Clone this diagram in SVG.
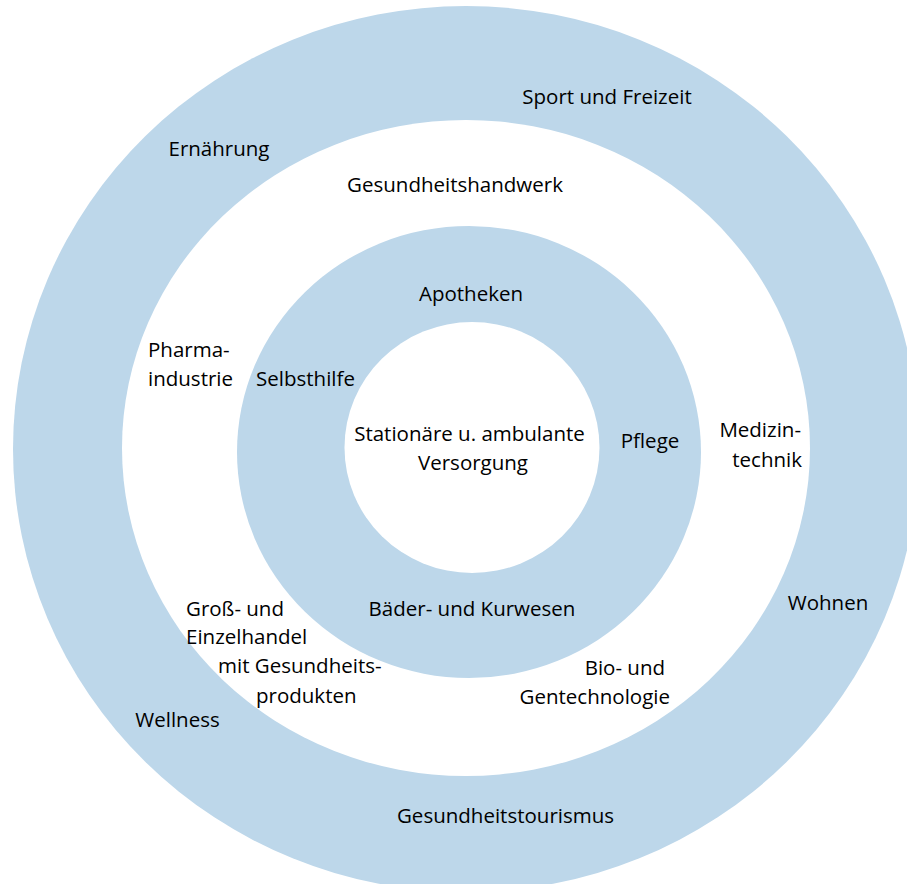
<svg xmlns="http://www.w3.org/2000/svg" width="907" height="884" viewBox="0 0 907 884">
<style>
.ring{fill:#BDD7EA}
.hole{fill:#FFFFFF}
text{font-family:"Open Sans","Liberation Sans",sans-serif;font-size:20.5px;fill:#000}
.m{text-anchor:middle}
.e{text-anchor:end}
</style>
<rect x="0" y="0" width="907" height="884" fill="#FFFFFF"/>
<g id="outer-ring">
<ellipse class="ring" cx="466" cy="449" rx="453" ry="443"/>
<ellipse class="hole" cx="466" cy="448" rx="344" ry="328"/>
</g>
<g id="middle-ring">
<ellipse class="ring" cx="469" cy="452" rx="232" ry="226"/>
<ellipse class="hole" cx="472" cy="447.5" rx="127.5" ry="125.5"/>
</g>
<g id="labels">
<text class="m" x="607" y="104">Sport und Freizeit</text>
<text class="m" x="219" y="156">Ernährung</text>
<text class="m" x="455" y="192">Gesundheitshandwerk</text>
<text class="m" x="471" y="301">Apotheken</text>
<text x="148" y="357">Pharma-</text>
<text x="148" y="386">industrie</text>
<text class="m" x="305.5" y="386">Selbsthilfe</text>
<text class="m" x="469.5" y="441">Stationäre u. ambulante</text>
<text class="m" x="473" y="470">Versorgung</text>
<text class="m" x="650" y="448">Pflege</text>
<text class="e" x="801" y="437">Medizin-</text>
<text class="e" x="802" y="467">technik</text>
<text class="m" x="828" y="610">Wohnen</text>
<text x="186" y="616">Groß- und</text>
<text x="186" y="644">Einzelhandel</text>
<text x="218" y="673">mit Gesundheits-</text>
<text x="256" y="703">produkten</text>
<text class="m" x="472" y="616">Bäder- und Kurwesen</text>
<text class="e" x="665" y="675">Bio- und</text>
<text class="e" x="670" y="704">Gentechnologie</text>
<text class="m" x="177.5" y="727">Wellness</text>
<text class="m" x="505.5" y="823">Gesundheitstourismus</text>
</g>
</svg>
